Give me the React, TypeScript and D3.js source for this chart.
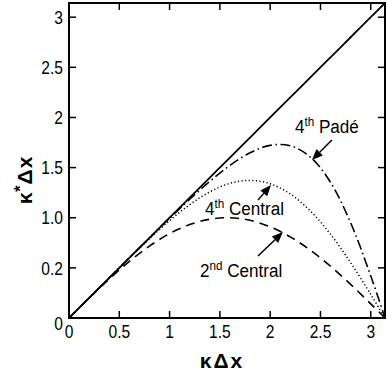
import { useEffect, useRef } from "react";
import * as d3 from "d3";

// modified wavenumber curves
const kdx = [0, 0.2, 0.4, 0.6, 0.8, 1.0, 1.2, 1.4, 1.6, 1.8, 2.0, 2.2, 2.4, 2.6, 2.8, 3.0, 3.1416];
const exact = [0, 0.2, 0.4, 0.6, 0.8, 1.0, 1.2, 1.4, 1.6, 1.8, 2.0, 2.2, 2.4, 2.6, 2.8, 3.0, 3.1416];
const central2 = [0, 0.199, 0.389, 0.565, 0.717, 0.842, 0.932, 0.985, 1.0, 0.974, 0.909, 0.809, 0.676, 0.516, 0.335, 0.141, 0];
const central4 = [0, 0.2, 0.4, 0.598, 0.79, 0.971, 1.13, 1.258, 1.343, 1.372, 1.339, 1.237, 1.067, 0.835, 0.552, 0.235, 0];
const pade4 = [0, 0.2, 0.4, 0.6, 0.798, 0.994, 1.184, 1.362, 1.522, 1.648, 1.722, 1.718, 1.605, 1.353, 0.95, 0.419, 0];

const xTicks = [0, 0.5, 1, 1.5, 2, 2.5, 3];
const xTickLabels = ["0", "0.5", "1", "1.5", "2", "2.5", "3"];
const yTicks = [0, 0.5, 1, 1.5, 2, 2.5, 3];
const yTickLabels = ["0", "0.2", "1.0", "1.5", "2", "2.5", "3"];

// annotation: label start, arrow tail, arrow tip (data units)
const labels = [
  { main: "4", sup: "th", rest: " Padé", tx: 2.246, ty: 1.845, ax: 2.614, ay: 1.775, bx: 2.415, by: 1.575 },
  { main: "4", sup: "th", rest: " Central", tx: 1.352, ty: 1.027, ax: 1.879, ay: 1.176, bx: 2.008, by: 1.326 },
  { main: "2", sup: "nd", rest: " Central", tx: 1.302, ty: 0.409, ax: 1.879, ay: 0.618, bx: 2.127, by: 0.857 },
];

const FONT = "'Liberation Sans', Arial, sans-serif";

export default function App() {
  const svgRef = useRef<SVGSVGElement | null>(null);
  const width = 387;
  const height = 372;

  useEffect(() => {
    if (!svgRef.current) return;
    const svg = d3.select(svgRef.current);
    svg.selectAll("*").remove();

    const x = d3.scaleLinear().domain([0, Math.PI]).range([69, 385]);
    const y = d3.scaleLinear().domain([0, Math.PI]).range([318, 3]);

    // condensed-looking text: scale horizontally
    const addText = (tx: number, ty: number, size: number, sx: number, anchor: string, rot = 0) =>
      svg.append("g")
        .attr("transform", `translate(${tx},${ty}) rotate(${rot}) scale(${sx},1)`)
        .append("text")
        .attr("text-anchor", anchor)
        .attr("font-family", FONT)
        .attr("font-size", size);

    // frame
    svg.append("rect")
      .attr("x", x(0)).attr("y", y(Math.PI))
      .attr("width", x(Math.PI) - x(0)).attr("height", y(0) - y(Math.PI))
      .attr("fill", "none").attr("stroke", "#000").attr("stroke-width", 2);

    // inward ticks on all four sides
    const tl = 7;
    xTicks.forEach((t) => {
      svg.append("line").attr("x1", x(t)).attr("x2", x(t)).attr("y1", y(0)).attr("y2", y(0) - tl)
        .attr("stroke", "#000").attr("stroke-width", 1.5);
      svg.append("line").attr("x1", x(t)).attr("x2", x(t)).attr("y1", y(Math.PI)).attr("y2", y(Math.PI) + tl)
        .attr("stroke", "#000").attr("stroke-width", 1.5);
    });
    yTicks.forEach((t) => {
      svg.append("line").attr("x1", x(0)).attr("x2", x(0) + tl).attr("y1", y(t)).attr("y2", y(t))
        .attr("stroke", "#000").attr("stroke-width", 1.5);
      svg.append("line").attr("x1", x(Math.PI)).attr("x2", x(Math.PI) - tl).attr("y1", y(t)).attr("y2", y(t))
        .attr("stroke", "#000").attr("stroke-width", 1.5);
    });

    // tick labels
    xTicks.forEach((t, i) => {
      addText(x(t), y(0) + 20, 19, 0.82, "middle").text(xTickLabels[i]);
    });
    yTicks.forEach((t, i) => {
      addText(x(0) - 6, y(t) + (t === 0 ? 5 : 0), 19, 0.82, "end")
        .attr("dy", "0.35em")
        .text(yTickLabels[i]);
    });

    // axis titles
    addText(222, 368, 21, 1, "middle")
      .attr("font-weight", "bold")
      .attr("letter-spacing", 2)
      .text("κΔx");
    const yt = addText(32, 180, 21, 1, "middle", -90)
      .attr("font-weight", "bold")
      .attr("letter-spacing", 1);
    yt.append("tspan").text("κ");
    yt.append("tspan").attr("dy", -6).attr("font-size", 16).text("*");
    yt.append("tspan").attr("dy", 6).text("Δx");

    // curves
    const line = d3.line<number>()
      .x((d, i) => x(kdx[i]))
      .y((d) => y(d))
      .curve(d3.curveCatmullRom.alpha(0.5));

    const series = [
      { v: exact, dash: null, w: 1.8 },
      { v: central2, dash: "9,6", w: 1.6 },
      { v: central4, dash: "1.2,2.4", w: 1.5 },
      { v: pade4, dash: "10,3.5,1.5,3.5", w: 1.6 },
    ];
    series.forEach((s) => {
      svg.append("path")
        .attr("d", line(s.v))
        .attr("fill", "none")
        .attr("stroke", "#000")
        .attr("stroke-width", s.w)
        .attr("stroke-dasharray", s.dash);
    });

    // annotations with arrows
    labels.forEach((l) => {
      const t = addText(x(l.tx), y(l.ty), 19, 0.9, "start");
      t.append("tspan").text(l.main);
      t.append("tspan").attr("dy", -7).attr("font-size", 13).text(l.sup);
      t.append("tspan").attr("dy", 7).text(l.rest);

      const x1 = x(l.ax), y1 = y(l.ay), x2 = x(l.bx), y2 = y(l.by);
      const ang = Math.atan2(y2 - y1, x2 - x1);
      const hl = 11, hw = 4.5;
      const bx = x2 - hl * Math.cos(ang), by = y2 - hl * Math.sin(ang);
      svg.append("line")
        .attr("x1", x1).attr("y1", y1).attr("x2", bx).attr("y2", by)
        .attr("stroke", "#000").attr("stroke-width", 1.5);
      const px = -Math.sin(ang), py = Math.cos(ang);
      svg.append("path")
        .attr("d", `M${x2},${y2}L${bx + hw * px},${by + hw * py}L${bx - hw * px},${by - hw * py}Z`)
        .attr("fill", "#000");
    });
  }, []);

  return (
    <svg
      ref={svgRef}
      width={width}
      height={height}
      style={{ position: "absolute", left: 0, top: 0, background: "#fff" }}
    />
  );
}
